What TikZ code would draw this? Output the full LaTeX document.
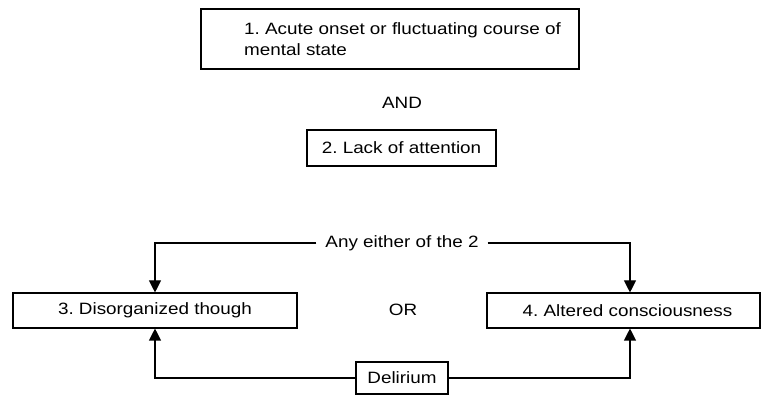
\documentclass[tikz,border=0pt]{standalone}
\usepackage{fontspec}
\setmainfont{Liberation Sans}[FakeStretch=1.15]
\usetikzlibrary{arrows.meta}
\begin{document}
\frenchspacing
\begin{tikzpicture}[x=1pt,y=-1pt,
  box/.style={draw, line width=1.1pt, inner sep=0pt, font=\fontsize{16.4}{21}\selectfont},
  lbl/.style={inner sep=0pt, font=\fontsize{16.4}{21}\selectfont},
  conn/.style={line width=1.1pt, -{Triangle[width=12pt,length=12pt]}}]
\useasboundingbox (0,0) rectangle (761,395);
\node[box, minimum width=378, minimum height=60] (b1) at (390,39) {};
\node[lbl, anchor=west, align=left] (t1) at (244,39) {1. Acute onset or fluctuating course of\\mental state};
\node[lbl] (and) at (402,103) {AND};
\node[box, minimum width=189, minimum height=36] (b2) at (401.5,148) {2. Lack of attention};
\node[lbl, inner xsep=9pt] (any) at (402,243) {Any either of the 2};
\node[box, minimum width=284, minimum height=35] (b3) at (155,310.5) {3. Disorganized though};
\node[lbl] (or) at (403,310) {OR};
\node[box, minimum width=273, minimum height=35] (b4) at (623.5,310.5) {\hspace*{8pt}4. Altered consciousness};
\node[box, minimum width=92, minimum height=32] (del) at (402,378) {Delirium};
\draw[conn] (any.west) -| (b3.north);
\draw[conn] (any.east) -| ([xshift=6.5pt]b4.north);
\draw[conn] (del.west) -| (b3.south);
\draw[conn] (del.east) -| ([xshift=6.5pt]b4.south);
\end{tikzpicture}
\end{document}
